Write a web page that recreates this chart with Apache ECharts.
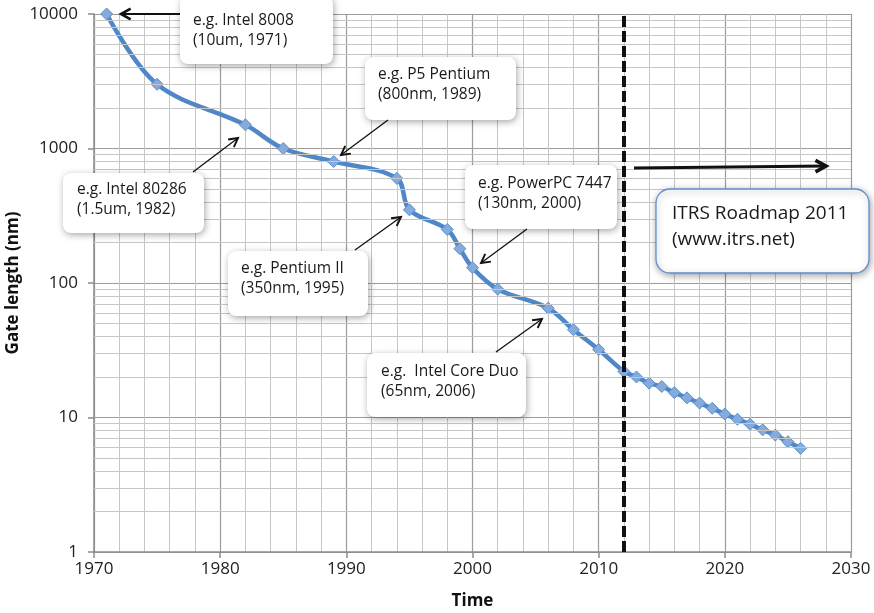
<!DOCTYPE html>
<html>
<head>
<meta charset="utf-8">
<script src="https://cdn.jsdelivr.net/npm/echarts@6/dist/echarts.min.js"></script>
<style>
html,body{margin:0;padding:0;background:#fff;}
#chart{width:874px;height:613px;}
</style>
</head>
<body>
<div id="chart"></div>
<script>
// ---- data ----
const years = [1971,1975,1982,1985,1989,1994,1995,1998,1999,2000,2002,2006,2008,2010,2012,2013,2014,2015,2016,2017,2018,2019,2020,2021,2022,2023,2024,2025,2026];
const gateLength = [10000,3000,1500,1000,800,600,350,250,180,130,90,65,45,32,22,20,18,17,15.3,14,12.8,11.7,10.6,9.7,8.9,8.1,7.4,6.6,5.9];
const roadmapYear = 2012;
const yDecades = [1,10,100,1000];
const yMinorSteps = [2,3,4,5,6,7,8,9];
const notes = [
  'e.g. Intel 8008\n(10um, 1971)',
  'e.g. P5 Pentium\n(800nm, 1989)',
  'e.g. Intel 80286\n(1.5um, 1982)',
  'e.g. Pentium II\n(350nm, 1995)',
  'e.g. PowerPC 7447\n(130nm, 2000)',
  'e.g.  Intel Core Duo\n(65nm, 2006)'
];
const roadmapNote = 'ITRS Roadmap 2011\n(www.itrs.net)';

const FONT = '"Open Sans", "DejaVu Sans", sans-serif';
const chart = echarts.init(document.getElementById('chart'));

const minorY = [];
yDecades.forEach(d => yMinorSteps.forEach(k => minorY.push({yAxis: d*k})));

function box(x, y, w, h, text, opts) {
  opts = opts || {};
  return [
    {type: 'rect', z: 100, shape: {x: x, y: y, width: w, height: h, r: opts.r || 8},
     style: {fill: '#fff', stroke: opts.stroke || null, lineWidth: opts.stroke ? 1.3 : 0,
             shadowBlur: 7, shadowColor: 'rgba(0,0,0,0.35)', shadowOffsetX: 1, shadowOffsetY: 2}},
    {type: 'text', z: 101, style: {x: opts.tx, y: opts.ty, text: text, fill: '#1a1a1a',
             font: (opts.fs || 15.5) + 'px ' + FONT, lineHeight: opts.lh || 20,
             verticalAlign: 'top', align: 'left'}}
  ];
}
function arrow(x1, y1, x2, y2, w, head) {
  const a = Math.atan2(y2 - y1, x2 - x1);
  const s = 0.5;
  const p1 = [x2 - head*Math.cos(a - s), y2 - head*Math.sin(a - s)];
  const p2 = [x2 - head*Math.cos(a + s), y2 - head*Math.sin(a + s)];
  return [
    {type: 'line', z: 110, shape: {x1: x1, y1: y1, x2: x2, y2: y2}, style: {stroke: '#111', lineWidth: w}},
    {type: 'polyline', z: 110, shape: {points: [p1, [x2, y2], p2]}, style: {stroke: '#111', lineWidth: w + 0.6, fill: null, lineJoin: 'miter'}}
  ];
}
const plain = v => String(v);

const option = {
  animation: false,
  backgroundColor: '#fff',
  grid: {left: 94, right: 23, top: 14, bottom: 61, containLabel: false, outerBoundsMode: 'none'},
  xAxis: {
    type: 'value', min: 1970, max: 2030, interval: 10,
    name: 'Time', nameLocation: 'middle', nameGap: 41,
    nameTextStyle: {fontFamily: FONT, fontWeight: 'bold', fontSize: 17, color: '#111'},
    axisLine: {lineStyle: {color: '#8c8c8c', width: 1.5}},
    axisTick: {show: true, length: 6, lineStyle: {color: '#8c8c8c', width: 1.5}},
    axisLabel: {fontFamily: FONT, fontSize: 17, color: '#222', margin: 9, formatter: plain},
    splitLine: {show: true, lineStyle: {color: '#9c9c9c', width: 1.2}},
    minorTick: {show: false, splitNumber: 5},
    minorSplitLine: {show: true, lineStyle: {color: '#c6c6c6', width: 1}}
  },
  yAxis: {
    type: 'log', logBase: 10, min: 1, max: 10000,
    name: 'Gate length (nm)', nameLocation: 'middle', nameGap: 72, nameRotate: 90,
    nameMoveOverlap: false,
    nameTextStyle: {fontFamily: FONT, fontWeight: 'bold', fontSize: 17, color: '#111'},
    axisLine: {show: true, lineStyle: {color: '#8c8c8c', width: 1.5}},
    axisTick: {show: true, length: 6, lineStyle: {color: '#8c8c8c', width: 1.5}},
    axisLabel: {fontFamily: FONT, fontSize: 17, color: '#222', margin: 16, formatter: plain},
    splitLine: {show: true, lineStyle: {color: '#9c9c9c', width: 1.2}},
    minorSplitLine: {show: false}
  },
  series: [
    {
      type: 'line', data: [], z: 1, silent: true,
      markLine: {silent: true, symbol: ['none','none'], label: {show: false},
        lineStyle: {color: '#c6c6c6', width: 1, type: 'solid'},
        emphasis: {disabled: true},
        data: minorY}
    },
    {
      type: 'line', z: 3,
      data: years.map((y, i) => [y, gateLength[i]]),
      smooth: 0.35,
      lineStyle: {color: '#4f87c7', width: 4.5},
      symbol: 'diamond', symbolSize: 12,
      itemStyle: {color: '#84abdc', borderColor: '#5b8fcc', borderWidth: 1}
    },
    {
      type: 'line', data: [], z: 5, silent: true,
      markLine: {silent: true, symbol: ['none','none'], label: {show: false},
        lineStyle: {color: '#111', width: 4, type: [11, 4]},
        emphasis: {disabled: true},
        data: [{xAxis: roadmapYear}]}
    }
  ],
  graphic: [].concat(
    box(180, -4, 153, 68, notes[0], {tx: 193, ty: 11}),
    box(365, 57, 151, 63, notes[1], {tx: 378, ty: 65}),
    box(63, 173, 141, 60, notes[2], {tx: 77, ty: 180}),
    box(228, 251, 140, 65, notes[3], {tx: 241, ty: 259}),
    box(465, 165, 152, 64, notes[4], {tx: 478, ty: 174}),
    box(367, 353, 159, 64, notes[5], {tx: 381, ty: 362}),
    box(656, 189, 213, 84, roadmapNote, {tx: 672, ty: 201, fs: 19, lh: 26, r: 14, stroke: '#5b8fd0'}),
    arrow(180, 14, 121, 14, 2, 11),
    arrow(388, 120, 341, 155, 1.3, 10),
    arrow(193, 172, 238, 138, 1.3, 10),
    arrow(355, 250, 401, 217, 1.3, 10),
    arrow(527, 229, 481, 263, 1.3, 10),
    arrow(496, 352, 542, 319, 1.3, 10),
    arrow(634, 168, 826, 166, 3, 12)
  )
};
chart.setOption(option);
</script>
</body>
</html>
